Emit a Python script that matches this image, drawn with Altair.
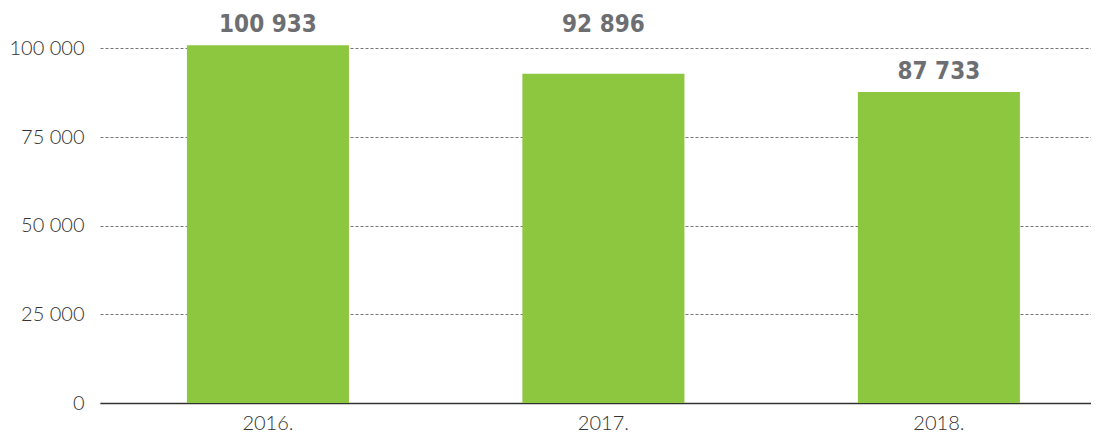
import altair as alt
import pandas as pd

years = ["2016.", "2017.", "2018."]
values = [100933, 92896, 87733]
labels = ["100 933", "92 896", "87 733"]

df = pd.DataFrame({"year": years, "value": values, "label": labels})

x = alt.X("year:N", sort=years, title=None,
          scale=alt.Scale(paddingInner=0.517, paddingOuter=0.2355, align=0.55),
          axis=alt.Axis(labelAngle=0, ticks=False, domain=True, domainColor="#333333",
                        domainWidth=1.5, labelFont="Lato", labelFontWeight=300,
                        labelFontSize=20, labelColor="#333333", labelPadding=10))
yscale = alt.Scale(domain=[0, 110000], nice=False)
y = alt.Y("value:Q", title=None, scale=yscale,
          axis=alt.Axis(values=[0, 25000, 50000, 75000, 100000], ticks=False, domain=False,
                        labelExpr="replace(format(datum.value, ','), ',', ' ')",
                        labelFont="Lato", labelFontWeight=300, labelFontSize=20,
                        labelColor="#333333", labelPadding=16,
                        grid=True, gridColor="#777777", gridDash=[3, 2], gridWidth=1))

base = alt.Chart(df)
bars = base.mark_bar(color="#8dc63f").encode(x=x, y=y)
# In the original, the 2017 label sits level with the 2016 label rather than on its bar.
text = base.transform_calculate(
    label_pos="datum.year === '2017.' ? 100933 : datum.value"
).mark_text(baseline="bottom", dy=-8, fontSize=24, fontWeight="bold",
            font="DejaVu Sans Condensed, Liberation Sans Narrow, Roboto",
            color="#6d6e71").encode(
    x=x, y=alt.Y("label_pos:Q", scale=yscale), text="label:N")

chart = (bars + text).properties(
    width=991, height=390,
    autosize=alt.AutoSizeParams(type="none"),
    padding={"left": 92, "top": 5, "right": 0, "bottom": 40},
).configure_view(strokeWidth=0)

chart.save("out.html", embed_options={"renderer": "svg", "actions": False})
